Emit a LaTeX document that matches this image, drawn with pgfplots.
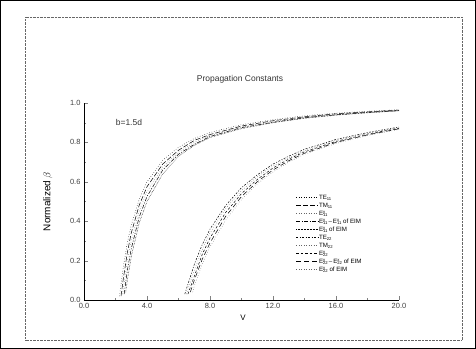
\documentclass[border=0pt]{standalone}
\usepackage{pgfplots}
\pgfplotsset{compat=1.18}
\usepackage{fontspec}
\setmainfont{Liberation Sans}
\newcommand\Sb[1]{\raisebox{-1bp}{\fontsize{4.2}{4.2}\selectfont #1}}
\newcommand\SpSb[2]{\rlap{\raisebox{1.9bp}{\fontsize{4.2}{4.2}\selectfont #1}}\raisebox{-1bp}{\fontsize{4.2}{4.2}\selectfont #2}}
\begin{document}
\begin{tikzpicture}
\begin{axis}[
  at={(0,0)}, anchor=south west,
  scale only axis, width=315bp, height=197bp,
  xmin=0, xmax=20, ymin=0, ymax=1,
  axis x line*=bottom, axis y line*=left,
  axis line style={line width=0.8pt},
  xtick={0,4,8,12,16,20}, ytick={0,0.2,0.4,0.6,0.8,1.0},
  minor x tick num=1, minor y tick num=1,
  tick align=inside, major tick length=4bp, minor tick length=2.5bp,
  /pgf/number format/assume math mode=true,
  xticklabel style={/pgf/number format/.cd, fixed, fixed zerofill, precision=1},
  yticklabel style={/pgf/number format/.cd, fixed, fixed zerofill, precision=1},
  ticklabel style={font=\fontsize{7.5}{8}\selectfont, text=black!75},
  xlabel={V}, ylabel={Normalized $\beta$},
  xlabel style={font=\fontsize{8}{9}\selectfont, at={(axis description cs:0.505,-0.09)}, anchor=center},
  ylabel style={font=\fontsize{10}{11}\selectfont, at={(axis description cs:-0.115,0.5)}, anchor=center},
  legend style={at={(0.663,0.552)}, anchor=north west, draw=none, fill=none,
    font=\fontsize{6.2}{7}\selectfont, row sep=0pt,
    nodes={inner sep=0.5pt, text height=5.2bp, text depth=1.8bp}},
  legend cell align=left,
  legend image code/.code={\draw[#1] (0bp,0bp) -- (22bp,0bp);},
  every axis plot/.append style={line width=0.5pt, black},
]
% group 1
\addplot[dotted] coordinates {(2.25,0.02)(2.5,0.17)(2.75,0.29)(3,0.38)(3.5,0.51)(4,0.60)(5,0.71)(6,0.775)(7,0.82)(8,0.85)(10,0.89)(12,0.915)(14,0.935)(16,0.948)(18,0.958)(20,0.966)};
\addlegendentry{TE\Sb{11}}
\addplot[dash pattern=on 5pt off 2pt] coordinates {(2.35,0.02)(2.5,0.11)(2.75,0.24)(3,0.34)(3.5,0.48)(4,0.575)(5,0.69)(6,0.76)(7,0.81)(8,0.84)(10,0.883)(12,0.91)(14,0.93)(16,0.945)(18,0.955)(20,0.964)};
\addlegendentry{TM\Sb{11}}
\addplot[black!60, dash pattern=on 0.5pt off 2pt] coordinates {(2.45,0.03)(2.75,0.20)(3,0.30)(3.5,0.45)(4,0.55)(5,0.675)(6,0.75)(7,0.80)(8,0.835)(10,0.878)(12,0.905)(14,0.927)(16,0.942)(18,0.953)(20,0.962)};
\addlegendentry{E\SpSb{y}{11}}
\addplot[dash pattern=on 4pt off 1.5pt on 1pt off 1.5pt] coordinates {(2.55,0.03)(2.75,0.15)(3,0.26)(3.5,0.42)(4,0.525)(5,0.66)(6,0.74)(7,0.79)(8,0.83)(10,0.875)(12,0.902)(14,0.925)(16,0.94)(18,0.952)(20,0.961)};
\addlegendentry{E\SpSb{y}{11}\,--\,E\SpSb{x}{11} of EIM}
\addplot[densely dotted] coordinates {(2.65,0.04)(2.75,0.10)(3,0.22)(3.5,0.39)(4,0.50)(5,0.64)(6,0.73)(7,0.785)(8,0.825)(10,0.87)(12,0.90)(14,0.922)(16,0.938)(18,0.95)(20,0.96)};
\addlegendentry{E\SpSb{y}{11} of EIM}
% group 2
\addplot[dash pattern=on 2pt off 1.5pt on 1pt off 1.5pt] coordinates {(6.4,0.03)(7,0.18)(7.5,0.28)(8,0.36)(9,0.48)(10,0.57)(11,0.635)(12,0.69)(13,0.73)(14,0.765)(16,0.815)(18,0.85)(20,0.878)};
\addlegendentry{TE\Sb{22}}
\addplot[black!60, dash pattern=on 0.5pt off 2pt] coordinates {(6.5,0.03)(7,0.15)(7.5,0.255)(8,0.34)(9,0.465)(10,0.555)(11,0.625)(12,0.68)(13,0.722)(14,0.758)(16,0.81)(18,0.846)(20,0.875)};
\addlegendentry{TM\Sb{22}}
\addplot[dash pattern=on 2.5pt off 2pt] coordinates {(6.6,0.03)(7,0.12)(7.5,0.23)(8,0.315)(9,0.445)(10,0.54)(11,0.612)(12,0.67)(13,0.715)(14,0.752)(16,0.805)(18,0.842)(20,0.872)};
\addlegendentry{E\SpSb{y}{22}}
\addplot[dash pattern=on 5pt off 3pt] coordinates {(6.75,0.04)(7,0.10)(7.5,0.205)(8,0.29)(9,0.425)(10,0.525)(11,0.60)(12,0.66)(13,0.707)(14,0.745)(16,0.80)(18,0.838)(20,0.869)};
\addlegendentry{E\SpSb{y}{22}\,--\,E\SpSb{x}{22} of EIM}
\addplot[black!60, dash pattern=on 0.5pt off 2pt] coordinates {(6.9,0.04)(7,0.07)(7.5,0.18)(8,0.27)(9,0.405)(10,0.51)(11,0.59)(12,0.65)(13,0.70)(14,0.74)(16,0.795)(18,0.835)(20,0.866)};
\addlegendentry{E\SpSb{y}{22} of EIM}
\node[anchor=west, font=\fontsize{8.5}{10}\selectfont, text=black!80] at (axis cs:1.8,0.9) {b=1.5d};
\end{axis}
\node[font=\fontsize{8.5}{10}\selectfont, text=black!80] at (156bp,221bp) {Propagation Constants};
\draw[black!60, densely dotted] (-59bp,-40bp) rectangle (378bp,283bp);
\draw[line width=0.8pt, use as bounding box] (-83.6bp,-48.6bp) rectangle (391.6bp,299.6bp);
\end{tikzpicture}
\end{document}
